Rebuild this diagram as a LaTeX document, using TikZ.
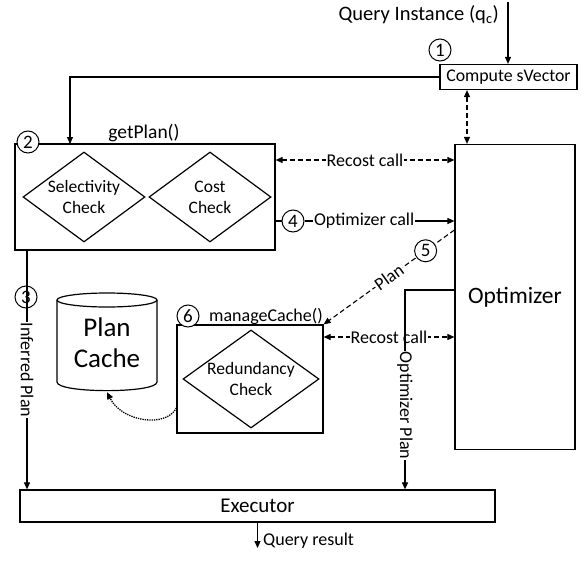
\documentclass[tikz,border=0pt]{standalone}
\usepackage{fontspec}
\setmainfont{Carlito}
\usetikzlibrary{shapes.geometric,arrows.meta,calc}
\begin{document}
\begin{tikzpicture}[x=1pt,y=-1pt,
  lbl/.style={font=\fontsize{18}{21}\selectfont, inner sep=1pt},
  num/.style={circle, draw, solid, line width=1pt, fill=white, inner sep=0pt, minimum size=22pt, font=\fontsize{19}{19}\selectfont},
  boxed/.style={draw, line width=1.2pt, inner sep=0pt},
  dia/.style={diamond, draw, line width=1.2pt, inner sep=0pt, align=center, font=\fontsize{17.5}{21}\selectfont},
  arr/.style={line width=1.1pt, -{Triangle[length=7pt,width=6pt]}},
  darr/.style={line width=1.1pt, dash pattern=on 5pt off 3pt, {Triangle[length=7pt,width=6pt]}-{Triangle[length=7pt,width=6pt]}},
  dsarr/.style={line width=1.1pt, dash pattern=on 5pt off 3pt, -{Triangle[length=7pt,width=6pt]}},
  onl/.style={lbl, fill=white}]
\useasboundingbox (0,0) rectangle (581,570);

% query instance
\coordinate (qin) at (508,2);
\node[font=\fontsize{20.5}{24}\selectfont, inner sep=1pt, anchor=east] (qlbl) at (500,15) {Query Instance (q\textsubscript{c})};
\node[boxed, minimum width=137pt, minimum height=25pt, font=\fontsize{17.8}{21}\selectfont] (sv) at (508.5,77) {Compute sVector};
\node[num] (n1) at (440,50) {1};
\draw[arr] (qin) -- (qin |- sv.north);

% getPlan box
\node[boxed, minimum width=260pt, minimum height=106pt] (gp) at (145,197) {};
\node[font=\fontsize{19.5}{23}\selectfont, inner sep=1pt] (gpl) at (144,133) {getPlan()};
\node[num] (n2) at (28,142) {2};
\node[dia, minimum width=122pt, minimum height=90pt, aspect=1.36] (sel) at (84,197) {Selectivity\\Check};
\node[dia, minimum width=122pt, minimum height=90pt, aspect=1.36] (cost) at (210,197) {Cost\\Check};
\coordinate (gpin) at (70,144);
\draw[arr] (sv.west) -| (gpin);

% optimizer
\node[boxed, minimum width=120pt, minimum height=305pt, font=\fontsize{23.5}{26}\selectfont] (opt) at (515,297) {Optimizer};
\coordinate (dv) at (467,0);
\draw[darr] (sv.south -| dv) -- (opt.north -| dv);
\draw[darr] (gp.east |- 0,160) -- (opt.west |- 0,160) node[midway, onl] (rc1) {Recost call};
\node[num] (n4) at (293,221) {4};
\draw[line width=1.1pt] (gp.east |- n4) -- (n4);
\draw[arr] (n4) -- (opt.west |- n4) node[pos=0, anchor=west, xshift=8pt, onl] (oc) {Optimizer call};

% plan cache
\node[minimum width=100pt, minimum height=100pt, inner sep=0pt] (pc) at (107,342) {};
\draw[line width=1.2pt, fill=white] (57,300) -- (57,382) .. controls (57,393.5) and (157,393.5) .. (157,382) -- (157,300);
\draw[line width=1.2pt] (107,300) ellipse (50 and 7);
\node[font=\fontsize{27}{30}\selectfont, inner sep=0pt] (pct1) at (107,327) {Plan};
\node[font=\fontsize{27}{30}\selectfont, inner sep=0pt] (pct2) at (107,358) {Cache};
\node[num] (n3) at (26,297) {3};

% manageCache
\node[boxed, minimum width=146pt, minimum height=108pt] (mc) at (250,379) {};
\node[lbl] (mcl) at (266,316) {manageCache()};
\node[num] (n6) at (188,316) {6};
\node[dia, minimum width=136pt, minimum height=98pt, aspect=1.39] (rd) at (251,379) {Redundancy\\Check};
\draw[line width=1.3pt, densely dotted, -{Triangle[length=7pt,width=6pt]}] (mc.west |- 0,408) .. controls (166,428) and (122,422) .. (pc.south);

% plan (5)
\draw[dsarr] (opt.west |- 0,230) -- (mc.north east)
  node[pos=0.22, num] (n5) {5}
  node[pos=0.5, onl, sloped] (pl) {Plan};
\draw[darr] (mc.east |- 0,337) -- (opt.west |- 0,337) node[midway, onl] (rc2) {Recost call};

% executor
\node[boxed, minimum width=475pt, minimum height=32pt, font=\fontsize{21}{24}\selectfont] (ex) at (257.5,506) {Executor};
\coordinate (ip) at (27,0);
\draw[arr] (gp.south -| ip) -- (ex.north -| ip) node[pos=0.5, onl, rotate=-90] (ipl) {Inferred Plan};
\coordinate (op) at (405,0);
\draw[arr] (opt.west |- 0,290) -| (ex.north -| op) node[pos=0.79, onl, rotate=-90] (opl) {Optimizer Plan};
\coordinate (qr) at (257.5,548);
\draw[arr] (ex.south) -- (qr);
\node[lbl, anchor=west] (qrl) at (262,541) {Query result};
\end{tikzpicture}
\end{document}
